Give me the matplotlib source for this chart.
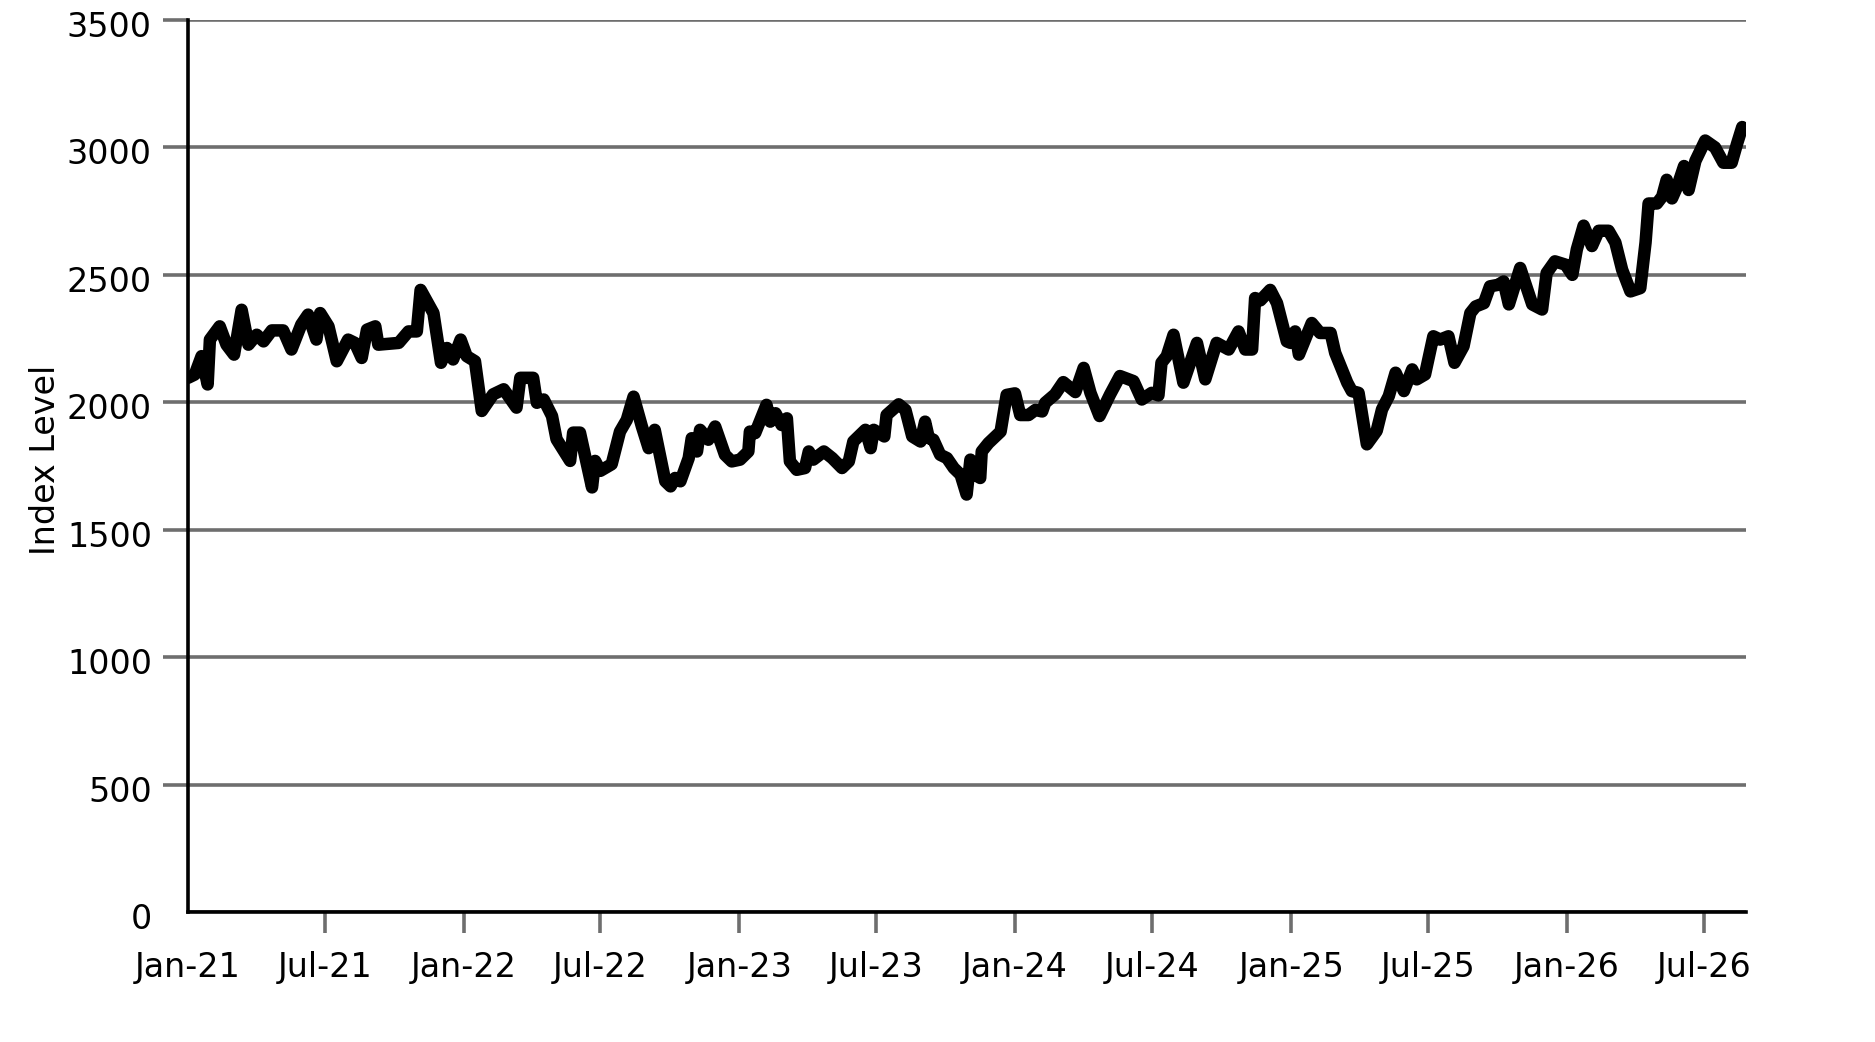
import matplotlib
matplotlib.use("Agg")
import matplotlib.pyplot as plt
import matplotlib.dates as mdates
import matplotlib.transforms as mtransforms
import pandas as pd

# ---- data ----
start_date = "2021-01-01"
end_date = "2026-08-26"

day_offsets = [
    0, 9, 18, 26, 29, 42, 51, 61, 71, 80, 91, 100, 111, 126, 137, 150, 159, 170, 175, 186,
    197, 212, 221, 230, 237, 248, 252, 279, 292, 303, 308, 325, 335, 343, 351, 361, 369, 380,
    389, 404, 418, 435, 440, 457, 462, 471, 482, 488, 506, 510, 519, 535, 539, 546, 561, 572,
    581, 590, 601, 610, 618, 632, 639, 645, 652, 663, 667, 674, 678, 689, 698, 711, 720, 731,
    742, 744, 751, 766, 771, 778, 786, 793, 797, 806, 817, 822, 828, 842, 853, 866, 875, 881,
    897, 904, 908, 922, 925, 941, 950, 959, 970, 976, 981, 987, 996, 1005, 1014, 1023, 1031,
    1036, 1042, 1049, 1051, 1060, 1076, 1084, 1095, 1102, 1113, 1122, 1131, 1135, 1148, 1159,
    1175, 1186, 1195, 1207, 1221, 1234, 1252, 1263, 1276, 1285, 1289, 1296, 1305, 1318, 1336,
    1347, 1362, 1378, 1391, 1400, 1409, 1413, 1420, 1433, 1442, 1455, 1460, 1466, 1471, 1488,
    1499, 1513, 1519, 1535, 1541, 1550, 1561, 1574, 1581, 1590, 1599, 1610, 1621, 1627, 1638,
    1649, 1658, 1669, 1677, 1689, 1698, 1705, 1716, 1724, 1735, 1742, 1749, 1764, 1780, 1793,
    1799, 1810, 1824, 1833, 1839, 1848, 1859, 1868, 1881, 1890, 1899, 1910, 1923, 1930, 1934,
    1945, 1952, 1958, 1965, 1972, 1981, 1987, 1996, 2009, 2022, 2033, 2044, 2051, 2058,
]

index_level = [
    2096, 2109, 2181, 2070, 2246, 2298, 2226, 2187, 2363, 2226, 2265, 2239, 2282, 2282, 2207,
    2305, 2344, 2246, 2350, 2298, 2161, 2246, 2233, 2174, 2285, 2298, 2226, 2233, 2278, 2278,
    2441, 2350, 2155, 2213, 2168, 2246, 2181, 2161, 1966, 2031, 2051, 1979, 2096, 2096, 1998,
    2011, 1946, 1855, 1770, 1881, 1881, 1666, 1770, 1731, 1757, 1885, 1931, 2022, 1905, 1820,
    1892, 1690, 1670, 1703, 1690, 1781, 1859, 1807, 1892, 1853, 1905, 1794, 1768, 1775, 1807,
    1885, 1879, 1990, 1924, 1957, 1911, 1937, 1768, 1735, 1742, 1807, 1775, 1807, 1781, 1742,
    1768, 1846, 1892, 1820, 1892, 1866, 1950, 1992, 1970, 1866, 1846, 1924, 1859, 1853, 1794,
    1781, 1742, 1716, 1638, 1775, 1716, 1703, 1807, 1840, 1885, 2029, 2035, 1950, 1950, 1970,
    1964, 1998, 2031, 2079, 2040, 2135, 2037, 1946, 2031, 2103, 2083, 2011, 2037, 2027, 2155,
    2181, 2265, 2077, 2233, 2090, 2233, 2207, 2278, 2207, 2207, 2409, 2400, 2441, 2389, 2239,
    2233, 2278, 2187, 2311, 2272, 2272, 2194, 2077, 2044, 2037, 1835, 1888, 1972, 2024, 2116,
    2044, 2129, 2090, 2109, 2259, 2246, 2259, 2155, 2220, 2350, 2376, 2389, 2455, 2461, 2474,
    2384, 2527, 2384, 2364, 2507, 2553, 2540, 2500, 2600, 2693, 2613, 2673, 2673, 2627, 2520,
    2435, 2448, 2627, 2780, 2780, 2807, 2873, 2800, 2847, 2927, 2833, 2947, 3027, 3000, 2940,
    2940, 3013, 3080,
]

y_ticks = [0, 500, 1000, 1500, 2000, 2500, 3000, 3500]
y_label = "Index Level"

# ---- plot ----
dates = pd.Timestamp(start_date) + pd.to_timedelta(day_offsets, unit="D")

fig = plt.figure(figsize=(18.75, 10.42), dpi=100)
ax = fig.add_axes([188 / 1875, 1 - 912 / 1042, 1558 / 1875, 892 / 1042])

grid_color = "#6e6e6e"
ax.set_axisbelow(True)
ax.yaxis.grid(True, color=grid_color, linewidth=2.6)
ax.xaxis.grid(False)

ax.plot(dates, index_level, color="black", linewidth=9,
        solid_joinstyle="round", solid_capstyle="round", zorder=3)

ax.set_ylim(0, 3500)
ax.set_yticks(y_ticks)
ax.set_xlim(pd.Timestamp(start_date), pd.Timestamp(end_date))
ax.xaxis.set_major_locator(mdates.MonthLocator(bymonth=[1, 7]))
ax.xaxis.set_major_formatter(mdates.DateFormatter("%b-%y"))

for s in ["top", "right"]:
    ax.spines[s].set_visible(False)
for s in ["left", "bottom"]:
    ax.spines[s].set_color("black")
    ax.spines[s].set_linewidth(2.6)
    ax.spines[s].set_zorder(4)

ax.tick_params(axis="y", length=18, width=2.6, color=grid_color, pad=8,
               labelsize=24, labelcolor="black")
ax.tick_params(axis="x", length=15, width=2.6, color=grid_color, pad=13,
               labelsize=24, labelcolor="black")

ax.set_ylabel(y_label, fontsize=24)
ax.yaxis.set_label_coords(-0.081, 0.507)

# nudge y tick labels slightly downward as in the reference
offset = mtransforms.ScaledTranslation(0, -4 / 100, fig.dpi_scale_trans)
for lbl in ax.get_yticklabels():
    lbl.set_transform(lbl.get_transform() + offset)

fig.canvas.draw()
ax.yaxis.get_major_ticks()[0].tick1line.set_visible(False)
ax.xaxis.get_major_ticks()[0].tick1line.set_visible(False)

fig.savefig("out.png", dpi=100)
